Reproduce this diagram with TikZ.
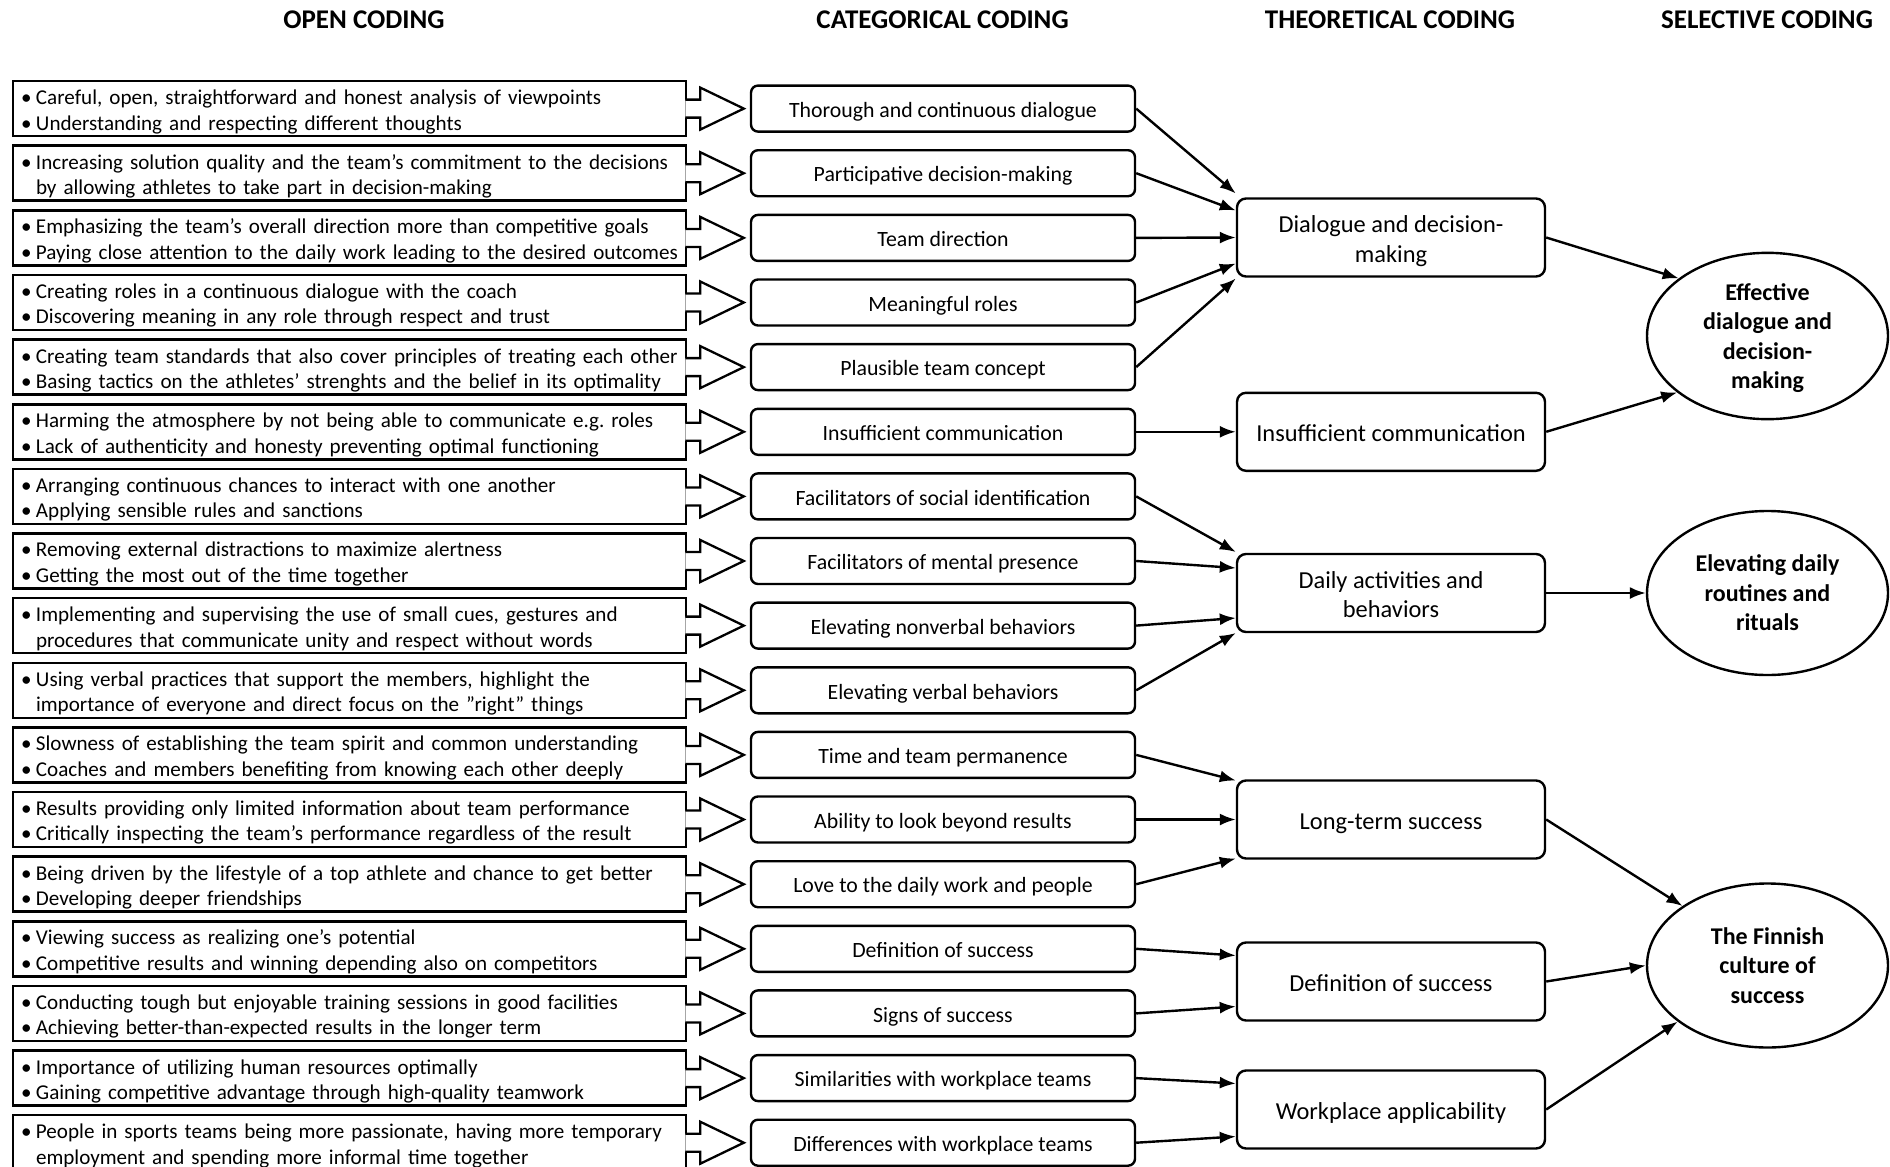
\documentclass[tikz,border=0pt]{standalone}
\usepackage{fontspec}
\setmainfont{Carlito}
\usetikzlibrary{arrows.meta,calc,shapes.geometric}
\frenchspacing
% bullet line and indented continuation line for the open-coding boxes
\newcommand\bpt[1]{\makebox[15pt][l]{•}#1}
\newcommand\bcont[1]{\hspace*{15pt}#1}
% strut-based line stacks, lowered slightly inside their frames
\newcommand\cellc[2][3.6pt]{\raisebox{-#1}[\height][\depth]{\begin{tabular}{@{}c@{}}#2\end{tabular}}}
\newcommand\celll[2][3.6pt]{\raisebox{-#1}[\height][\depth]{\begin{tabular}{@{}l@{}}#2\end{tabular}}}

\begin{document}
\begin{tikzpicture}[x=1pt,y=-1pt,
  header/.style={font=\fontsize{27}{32}\selectfont\bfseries},
  openbox/.style={draw, line width=2.5pt, text width=657pt, minimum height=55pt,
    inner xsep=8pt, inner ysep=0pt, align=left, font=\fontsize{21.1}{25.5}\selectfont},
  catbox/.style={draw, line width=2.4pt, rounded corners=7pt, minimum width=384pt,
    minimum height=46pt, inner sep=0pt, font=\fontsize{21.8}{25.5}\selectfont},
  theobox/.style={draw, line width=2.4pt, rounded corners=9pt, minimum width=308pt,
    minimum height=78pt, inner sep=0pt, font=\fontsize{24.4}{29.3}\selectfont},
  selell/.style={ellipse, draw, line width=2.4pt, minimum width=241pt, minimum height=164pt,
    inner sep=0pt, font=\fontsize{24}{29.4}\selectfont\bfseries},
  blockarrow/.style={draw, fill=white, line width=2.3pt, line join=miter},
  link/.style={line width=2.4pt, -{Latex[length=16pt,width=12pt]}},
]
\useasboundingbox (0,0) rectangle (1890,1167);

% column headings
\node[header] (h1) at (364,20) {OPEN CODING};
\node[header] (h2) at (942.6,20) {CATEGORICAL CODING};
\node[header] (h3) at (1390,20) {THEORETICAL CODING};
\node[header] (h4) at (1767,20) {SELECTIVE CODING};

% open coding
\node[openbox] (o1) at (349.5,108.6) {\celll{\bpt{Careful, open, straightforward and honest analysis of viewpoints}\\\bpt{Understanding and respecting different thoughts}}};
\node[openbox] (o2) at (349.5,173.2) {\celll{\bpt{Increasing solution quality and the team’s commitment to the decisions}\\\bcont{by allowing athletes to take part in decision-making}}};
\node[openbox] (o3) at (349.5,237.9) {\celll{\bpt{Emphasizing the team’s overall direction more than competitive goals}\\\bpt{Paying close attention to the daily work leading to the desired outcomes}}};
\node[openbox] (o4) at (349.5,302.5) {\celll{\bpt{Creating roles in a continuous dialogue with the coach}\\\bpt{Discovering meaning in any role through respect and trust}}};
\node[openbox] (o5) at (349.5,367.1) {\celll{\bpt{Creating team standards that also cover principles of treating each other}\\\bpt{Basing tactics on the athletes’ strenghts and the belief in its optimality}}};
\node[openbox] (o6) at (349.5,431.8) {\celll{\bpt{Harming the atmosphere by not being able to communicate e.g. roles}\\\bpt{Lack of authenticity and honesty preventing optimal functioning}}};
\node[openbox] (o7) at (349.5,496.4) {\celll{\bpt{Arranging continuous chances to interact with one another}\\\bpt{Applying sensible rules and sanctions}}};
\node[openbox] (o8) at (349.5,561.0) {\celll{\bpt{Removing external distractions to maximize alertness}\\\bpt{Getting the most out of the time together}}};
\node[openbox] (o9) at (349.5,625.6) {\celll{\bpt{Implementing and supervising the use of small cues, gestures and}\\\bcont{procedures that communicate unity and respect without words}}};
\node[openbox] (o10) at (349.5,690.3) {\celll{\bpt{Using verbal practices that support the members, highlight the}\\\bcont{importance of everyone and direct focus on the ”right” things}}};
\node[openbox] (o11) at (349.5,754.9) {\celll{\bpt{Slowness of establishing the team spirit and common understanding}\\\bpt{Coaches and members benefiting from knowing each other deeply}}};
\node[openbox] (o12) at (349.5,819.5) {\celll{\bpt{Results providing only limited information about team performance}\\\bpt{Critically inspecting the team’s performance regardless of the result}}};
\node[openbox] (o13) at (349.5,884.2) {\celll{\bpt{Being driven by the lifestyle of a top athlete and chance to get better}\\\bpt{Developing deeper friendships}}};
\node[openbox] (o14) at (349.5,948.8) {\celll{\bpt{Viewing success as realizing one’s potential}\\\bpt{Competitive results and winning depending also on competitors}}};
\node[openbox] (o15) at (349.5,1013.4) {\celll{\bpt{Conducting tough but enjoyable training sessions in good facilities}\\\bpt{Achieving better-than-expected results in the longer term}}};
\node[openbox] (o16) at (349.5,1078.1) {\celll{\bpt{Importance of utilizing human resources optimally}\\\bpt{Gaining competitive advantage through high-quality teamwork}}};
\node[openbox] (o17) at (349.5,1142.7) {\celll{\bpt{People in sports teams being more passionate, having more temporary}\\\bcont{employment and spending more informal time together}}};

% categorical coding
\node[catbox] (c1) at (943,108.6) {\cellc{Thorough and continuous dialogue}};
\node[catbox] (c2) at (943,173.2) {\cellc{Participative decision-making}};
\node[catbox] (c3) at (943,237.9) {\cellc{Team direction}};
\node[catbox] (c4) at (943,302.5) {\cellc{Meaningful roles}};
\node[catbox] (c5) at (943,367.1) {\cellc{Plausible team concept}};
\node[catbox] (c6) at (943,431.8) {\cellc{Insufficient communication}};
\node[catbox] (c7) at (943,496.4) {\cellc{Facilitators of social identification}};
\node[catbox] (c8) at (943,561.0) {\cellc{Facilitators of mental presence}};
\node[catbox] (c9) at (943,625.6) {\cellc{Elevating nonverbal behaviors}};
\node[catbox] (c10) at (943,690.3) {\cellc{Elevating verbal behaviors}};
\node[catbox] (c11) at (943,754.9) {\cellc{Time and team permanence}};
\node[catbox] (c12) at (943,819.5) {\cellc{Ability to look beyond results}};
\node[catbox] (c13) at (943,884.2) {\cellc{Love to the daily work and people}};
\node[catbox] (c14) at (943,948.8) {\cellc{Definition of success}};
\node[catbox] (c15) at (943,1013.4) {\cellc{Signs of success}};
\node[catbox] (c16) at (943,1078.1) {\cellc{Similarities with workplace teams}};
\node[catbox] (c17) at (943,1142.7) {\cellc{Differences with workplace teams}};

% theoretical coding
\node[theobox] (t1) at (1391,237.5) {\cellc[4pt]{Dialogue and decision-\\making}};
\node[theobox] (t2) at (1391,431.8) {\cellc[4pt]{Insufficient communication}};
\node[theobox] (t3) at (1391,593) {\cellc[4pt]{Daily activities and\\behaviors}};
\node[theobox] (t4) at (1391,819.5) {\cellc[4pt]{Long-term success}};
\node[theobox] (t5) at (1391,981.5) {\cellc[4pt]{Definition of success}};
\node[theobox] (t6) at (1391,1109.5) {\cellc[4pt]{Workplace applicability}};

% selective coding
\node[selell] (s1) at (1767.5,336) {\cellc[2.5pt]{Effective\\dialogue and\\decision-\\making}};
\node[selell] (s2) at (1767.5,593) {\cellc[2.5pt]{Elevating daily\\routines and\\rituals}};
\node[selell] (s3) at (1767.5,965.5) {\cellc[2.5pt]{The Finnish\\culture of\\success}};

% block arrows from open to categorical coding
\foreach \k in {1,...,17}{
  \draw[blockarrow] ($(o\k.east)+(-2,-9)$) -- ++(15,0) -- ++(0,-12)
    -- ($(c\k.west)+(-6,0)$) -- ($(o\k.east)+(13,21)$) -- ++(0,-12) -- ++(-15,0);
}

% categorical to theoretical coding
\draw[link] (c1.east) -- ($(t1.west)+(0,-44)$);
\draw[link] (c2.east) -- ($(t1.west)+(0,-27)$);
\draw[link] (c3.east) -- (t1.west);
\draw[link] (c4.east) -- ($(t1.west)+(0,26)$);
\draw[link] (c5.east) -- ($(t1.west)+(0,41)$);
\draw[link] (c6.east) -- (t2.west);
\draw[link] (c7.east) -- ($(t3.west)+(0,-41)$);
\draw[link] (c8.east) -- ($(t3.west)+(0,-25)$);
\draw[link] (c9.east) -- ($(t3.west)+(0,25)$);
\draw[link] (c10.east) -- ($(t3.west)+(0,40)$);
\draw[link] (c11.east) -- ($(t4.west)+(0,-39)$);
\draw[link] (c12.east) -- (t4.west);
\draw[link] (c13.east) -- ($(t4.west)+(0,39)$);
\draw[link] (c14.east) -- ($(t5.west)+(0,-26)$);
\draw[link] (c15.east) -- ($(t5.west)+(0,25)$);
\draw[link] (c16.east) -- ($(t6.west)+(0,-26)$);
\draw[link] (c17.east) -- ($(t6.west)+(0,27)$);

% theoretical to selective coding
\draw[link] (t1.east) -- (s1.147);
\draw[link] (t2.east) -- (s1.212);
\draw[link] (t3.east) -- (s2.west);
\draw[link] (t4.east) -- (s3.145);
\draw[link] (t5.east) -- (s3.west);
\draw[link] (t6.east) -- (s3.212);
\end{tikzpicture}
\end{document}
